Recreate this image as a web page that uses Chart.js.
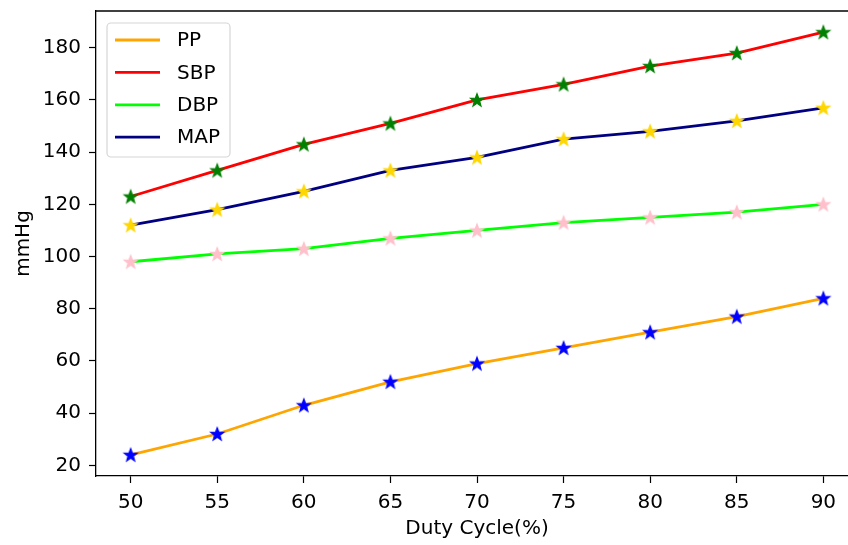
<!DOCTYPE html>
<html>
<head>
<meta charset="utf-8">
<script src="https://cdn.jsdelivr.net/npm/chart.js@4"></script>
<style>
  html, body { margin: 0; padding: 0; background: #fff; overflow: hidden; }
  canvas { display: block; }
</style>
</head>
<body>
<canvas id="bpChart" width="860" height="545"></canvas>
<script>
// --- data ---
const dutyCycle = [50, 55, 60, 65, 70, 75, 80, 85, 90];
const ppValues  = [24, 32, 43, 52, 59, 65, 71, 77, 84];
const sbpValues = [123, 133, 143, 151, 160, 166, 173, 178, 186];
const dbpValues = [98, 101, 103, 107, 110, 113, 115, 117, 120];
const mapValues = [112, 118, 125, 133, 138, 145, 148, 152, 157];

const xTicks = [50, 55, 60, 65, 70, 75, 80, 85, 90];
const yTicks = [20, 40, 60, 80, 100, 120, 140, 160, 180];

const FONT = "'DejaVu Sans', sans-serif";

// --- filled star marker like matplotlib '*' ---
function makeStar(color, r) {
  const c = document.createElement('canvas');
  const size = Math.ceil(r * 2 + 4);
  c.width = size; c.height = size;
  const g = c.getContext('2d');
  const cx = size / 2, cy = size / 2 + 0.5, inner = r * 0.42;
  g.beginPath();
  for (let i = 0; i < 10; i++) {
    const rad = i % 2 === 0 ? r : inner;
    const a = -Math.PI / 2 + i * Math.PI / 5;
    const px = cx + rad * Math.cos(a), py = cy + rad * Math.sin(a);
    i === 0 ? g.moveTo(px, py) : g.lineTo(px, py);
  }
  g.closePath();
  g.fillStyle = color;
  g.fill();
  g.strokeStyle = color;
  g.lineWidth = 1.2;
  g.stroke();
  return c;
}

function series(label, values, lineColor, markerColor) {
  return {
    label: label,
    data: dutyCycle.map((x, i) => ({ x: x, y: values[i] })),
    borderColor: lineColor,
    backgroundColor: lineColor,
    borderWidth: 2.8,
    pointStyle: makeStar(markerColor, 6.8),
    pointRadius: 7,
    tension: 0
  };
}

function noAutoPadding(s) {
  s.paddingTop = 0; s.paddingBottom = 0; s.paddingLeft = 0; s.paddingRight = 0;
}

// --- top spine + legend drawn like matplotlib ---
const frameAndLegend = {
  id: 'frameAndLegend',
  afterDraw(chart) {
    const { ctx, chartArea } = chart;
    ctx.save();
    ctx.strokeStyle = '#000';
    ctx.lineWidth = 1.3;
    ctx.beginPath();
    ctx.moveTo(chartArea.left, chartArea.top);
    ctx.lineTo(chartArea.right, chartArea.top);
    ctx.stroke();

    // legend box
    const bx = chartArea.left + 11, by = chartArea.top + 12, bw = 123, bh = 134;
    ctx.beginPath();
    ctx.roundRect(bx, by, bw, bh, 4);
    ctx.fillStyle = 'rgba(255,255,255,0.8)';
    ctx.fill();
    ctx.strokeStyle = '#d6d6d6';
    ctx.lineWidth = 1.2;
    ctx.stroke();

    ctx.font = '20px ' + FONT;
    ctx.textBaseline = 'middle';
    ctx.fillStyle = '#000';
    chart.data.datasets.forEach((ds, i) => {
      const y = by + 17 + i * 32.4;
      ctx.strokeStyle = ds.borderColor;
      ctx.lineWidth = 2.8;
      ctx.beginPath();
      ctx.moveTo(bx + 8, y);
      ctx.lineTo(bx + 53, y);
      ctx.stroke();
      ctx.fillText(ds.label, bx + 70, y + 1);
    });
    ctx.restore();
  }
};

new Chart(document.getElementById('bpChart'), {
  type: 'line',
  data: {
    datasets: [
      series('PP', ppValues, 'orange', 'blue'),
      series('SBP', sbpValues, 'red', 'green'),
      series('DBP', dbpValues, 'lime', 'pink'),
      series('MAP', mapValues, 'navy', 'gold')
    ]
  },
  options: {
    responsive: false,
    animation: false,
    layout: { autoPadding: false, padding: { top: 11, right: 2, left: 0, bottom: 0 } },
    plugins: { legend: { display: false }, tooltip: { enabled: false } },
    scales: {
      x: {
        type: 'linear',
        min: 48, max: 92,
        afterBuildTicks: s => { s.ticks = xTicks.map(v => ({ value: v })); },
        afterFit: s => { s.height = 69; noAutoPadding(s); },
        grid: { drawOnChartArea: false, drawTicks: true, tickLength: 7, color: '#000', tickWidth: 1.2 },
        border: { color: '#000', width: 1.3 },
        ticks: { color: '#000', font: { family: FONT, size: 20 }, padding: 8, maxRotation: 0 },
        title: { display: true, text: 'Duty Cycle(%)', color: '#000', font: { family: FONT, size: 20 }, padding: { top: 6 } }
      },
      y: {
        min: 15.9, max: 194.1,
        afterBuildTicks: s => { s.ticks = yTicks.map(v => ({ value: v })); },
        afterFit: s => { s.width = 96; noAutoPadding(s); },
        grid: { drawOnChartArea: false, drawTicks: true, tickLength: 7, color: '#000', tickWidth: 1.2 },
        border: { color: '#000', width: 1.3 },
        ticks: { color: '#000', font: { family: FONT, size: 20 }, padding: 8 },
        title: { display: true, text: 'mmHg', color: '#000', font: { family: FONT, size: 20 }, padding: { top: 12, bottom: 4 } }
      }
    }
  },
  plugins: [frameAndLegend]
});
</script>
</body>
</html>
